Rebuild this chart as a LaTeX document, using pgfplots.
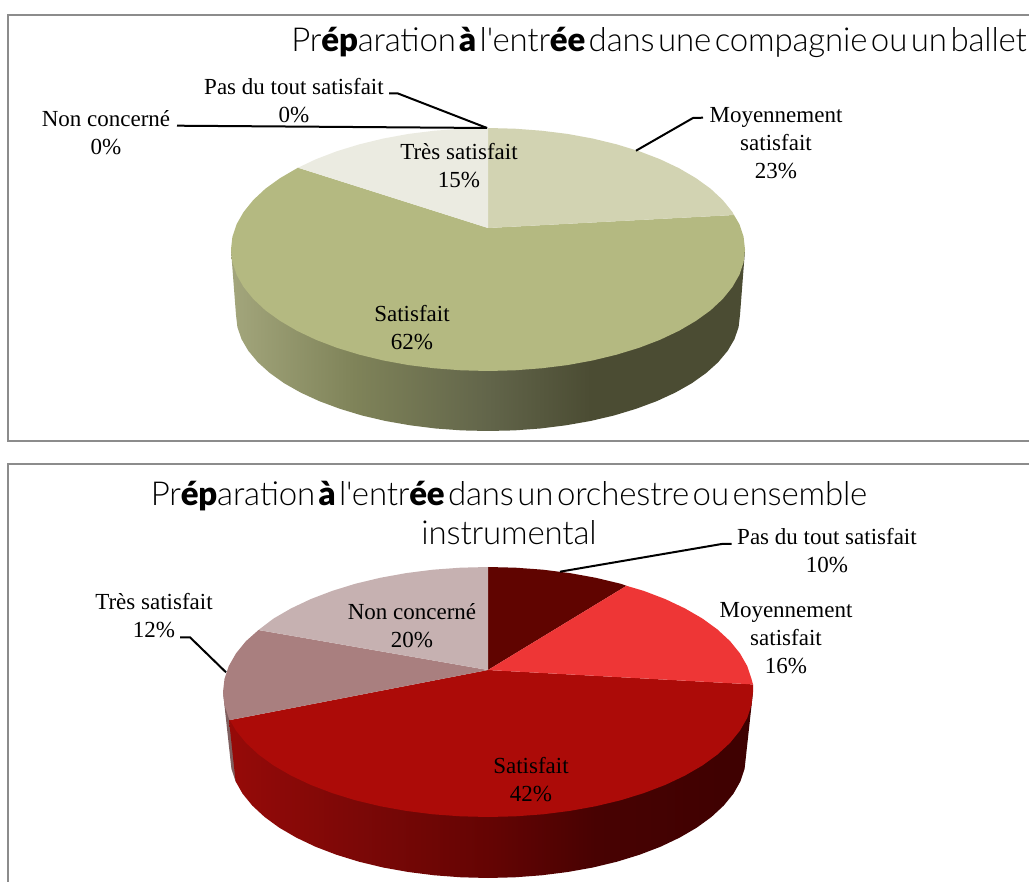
\documentclass[border=0pt]{standalone}
\usepackage{fontspec}
\usepackage{pgfplots}
\pgfplotsset{compat=1.18}
\setmainfont{Liberation Serif}
\newfontfamily\titlefont[UprightFont=* Light,BoldFont=* Black,WordSpace=0.4,LetterSpace=-0.5]{Lato}
\definecolor{oMoy}{HTML}{D2D3B2}
\definecolor{oSat}{HTML}{B4B981}
\definecolor{oTres}{HTML}{EBEBE1}
\definecolor{rPas}{HTML}{600400}
\definecolor{rMoy}{HTML}{EE3636}
\definecolor{rSat}{HTML}{AC0B08}
\definecolor{rTres}{HTML}{A97F7F}
\definecolor{rNon}{HTML}{C6B1B1}
\definecolor{frameC}{HTML}{8C8C8C}
\definecolor{oa}{HTML}{A3A67C}\definecolor{ob}{HTML}{7F8359}\definecolor{oc}{HTML}{62654A}\definecolor{od}{HTML}{4B4C33}
\definecolor{ra}{HTML}{960A08}\definecolor{rb}{HTML}{7C0807}\definecolor{rc}{HTML}{640403}\definecolor{rd}{HTML}{480202}\definecolor{re}{HTML}{3E0101}
\pgfdeclarehorizontalshading{oliveside}{100bp}{color(0bp)=(oa);color(25bp)=(oa);color(37bp)=(ob);color(50bp)=(oc);color(60bp)=(od);color(75bp)=(od);color(100bp)=(od)}
\pgfdeclarehorizontalshading{redside}{100bp}{color(0bp)=(ra);color(25bp)=(ra);color(37bp)=(rb);color(50bp)=(rc);color(60bp)=(rd);color(75bp)=(re);color(100bp)=(re)}
\newcommand{\lab}[3]{\node[align=center,font=\fontsize{23}{28}\selectfont,text=#3,inner sep=0pt] at (axis cs:#1) {#2};}
\begin{document}
\begin{tikzpicture}
\useasboundingbox (0,0) rectangle (1029pt,882pt);
\begin{axis}[at={(0,0)},anchor=south west,scale only axis,width=1029pt,height=882pt,
  xmin=0,xmax=1029,ymin=0,ymax=882,y dir=reverse,hide axis]
% frames
\addplot[frameC,line width=2.4pt] coordinates {(1040,15)(8,15)(8,441)(1040,441)};
\addplot[frameC,line width=2.4pt] coordinates {(1040,464)(8,464)(8,890)};
% ---- first pie: side
\addplot[shading=oliveside,draw=none] coordinates {(745,250)(740,315)(738.6,327.1)(734.5,339.1)(727.7,350.8)(718.2,362.2)(706.2,373)(691.9,383.2)(675.3,392.6)(656.6,401.2)(636.1,408.8)(614,415.5)(590.5,421)(565.9,425.3)(540.4,428.5)(514.3,430.4)(488,431)(461.7,430.4)(435.6,428.5)(410.1,425.3)(385.5,421)(362,415.5)(339.9,408.8)(319.4,401.2)(300.7,392.6)(284.1,383.2)(269.8,373)(257.8,362.2)(248.3,350.8)(241.5,339.1)(237.4,327.1)(236,315)(231,250)} -- cycle;
% Satisfait 62
\addplot[fill=oSat,draw=none] coordinates {(488,228)(734,215)(739.4,224.2)(743.6,236.8)(745,249.5)(743.6,262.2)(739.4,274.8)(732.4,287)(722.8,298.9)(710.6,310.3)(695.9,320.9)(679,330.8)(660,339.8)(639.1,347.8)(616.5,354.7)(592.5,360.5)(567.4,365.1)(541.4,368.3)(514.9,370.3)(488,371)(461.1,370.3)(434.6,368.3)(408.6,365.1)(383.5,360.5)(359.5,354.7)(336.9,347.8)(316,339.8)(297,330.8)(280.1,320.9)(265.4,310.3)(253.2,298.9)(243.6,287)(236.6,274.8)(232.4,262.2)(231,249.5)(232.4,236.8)(236.6,224.2)(243.6,212)(253.2,200.1)(265.4,188.7)(280.1,178.1)(298,167.7)} -- cycle;
% Moyennement 23
\addplot[fill=oMoy,draw=none] coordinates {(488,228)(488,128)(514.9,128.7)(541.4,130.7)(567.4,133.9)(592.5,138.5)(616.5,144.3)(639.1,151.2)(660,159.2)(679,168.2)(695.9,178.1)(710.6,188.7)(722.8,200.1)(732.4,212)(734,215)} -- cycle;
% Tres satisfait 15
\addplot[fill=oTres,draw=none] coordinates {(488,228)(298,167.7)(316,159.2)(336.9,151.2)(359.5,144.3)(383.5,138.5)(408.6,133.9)(434.6,130.7)(461.1,128.7)(488,128)} -- cycle;
% leaders
\addplot[black,line width=2pt] coordinates {(389,93.5)(398,93.5)(487,128)};
\addplot[black,line width=2pt] coordinates {(177,125.7)(487,128)};
\addplot[black,line width=2pt] coordinates {(703,117.7)(693,118)(636,150.7)};
% ---- second pie: side
\addplot[draw=none,fill=rTres!75!black] coordinates {(223,692)(230,756)(231.4,768.8)(235.6,781.4)(242,781)(229,716)} -- cycle;
\addplot[shading=redside,draw=none] coordinates {(753,692)(746,756)(744.6,768.8)(740.4,781.4)(733.4,793.7)(723.7,805.6)(711.4,817)(696.7,827.7)(679.7,837.6)(660.6,846.7)(639.7,854.7)(617,861.7)(592.9,867.5)(567.7,872)(541.6,875.3)(515,877.3)(488,878)(461,877.3)(434.4,875.3)(408.3,872)(383.1,867.5)(359,861.7)(336.3,854.7)(315.4,846.7)(296.3,837.6)(279.3,827.7)(264.6,817)(252.3,805.6)(242.6,793.7)(235.6,781.4)(229,720)} -- cycle;
% Satisfait 42
\addplot[fill=rSat,draw=none] coordinates {(488,670)(753,684.4)(753,692)(751.5,705.1)(747.2,718)(740,730.6)(730.1,742.8)(717.5,754.5)(702.4,765.5)(684.9,775.6)(665.3,784.9)(643.8,793.1)(620.5,800.3)(595.8,806.2)(569.9,810.9)(543.1,814.3)(515.7,816.3)(488,817)(460.3,816.3)(432.9,814.3)(406.1,810.9)(380.2,806.2)(355.5,800.3)(332.2,793.1)(310.7,784.9)(291.1,775.6)(273.6,765.5)(258.5,754.5)(245.9,742.8)(236,730.6)(229.8,720.1)} -- cycle;
% Pas du tout 10
\addplot[fill=rPas,draw=none] coordinates {(488,670)(488,567)(515.7,567.7)(543.1,569.7)(569.9,573.1)(595.8,577.8)(620.5,583.7)(626.5,585.8)} -- cycle;
% Moyennement 16
\addplot[fill=rMoy,draw=none] coordinates {(488,670)(626.5,585.8)(643.8,590.9)(665.3,599.1)(684.9,608.4)(702.4,618.5)(717.5,629.5)(730.1,641.2)(740,653.4)(747.2,666)(751.5,678.9)(753,684.4)} -- cycle;
% Tres satisfait 12
\addplot[fill=rTres,draw=none] coordinates {(488,670)(229.8,720.1)(228.8,718)(224.5,705.1)(223,692)(224.5,678.9)(228.8,666)(236,653.4)(245.9,641.2)(258.5,630)} -- cycle;
% Non concerne 20
\addplot[fill=rNon,draw=none] coordinates {(488,670)(258.5,630)(273.6,618.5)(291.1,608.4)(310.7,599.1)(332.2,590.9)(355.5,583.7)(380.2,577.8)(406.1,573.1)(432.9,569.7)(460.3,567.7)(488,567)} -- cycle;
% leaders
\addplot[black,line width=2pt] coordinates {(731.7,544)(721.7,544)(560,571.7)};
\addplot[black,line width=2pt] coordinates {(180,637.3)(190,637.3)(226,672.3)};
% labels
\lab{294,100.5}{Pas du tout satisfait\\0\%}{black}
\lab{106,132.5}{Non concerné\\0\%}{black}
\lab{459,165.5}{Très satisfait\\15\%}{black}
\lab{776,143}{Moyennement\\satisfait\\23\%}{black}
\lab{412,328}{Satisfait\\62\%}{black}
\lab{827,551}{Pas du tout satisfait\\10\%}{black}
\lab{786,638}{Moyennement\\satisfait\\16\%}{black}
\lab{154,616}{Très satisfait\\12\%}{black}
\lab{412,626}{Non concerné\\20\%}{black}
\lab{531,780}{Satisfait\\42\%}{black}
% titles
\node[anchor=east,inner sep=0pt,font=\titlefont\fontsize{33}{39}\selectfont] at (axis cs:1027,42) {Pr\textbf{ép}aration \textbf{à} l'entr\textbf{ée} dans une compagnie ou un ballet};
\node[align=center,inner sep=0pt,font=\titlefont\fontsize{33}{39}\selectfont] at (axis cs:509,513) {Pr\textbf{ép}aration \textbf{à} l'entr\textbf{ée} dans un orchestre ou ensemble\\instrumental};
\end{axis}
\end{tikzpicture}
\end{document}
